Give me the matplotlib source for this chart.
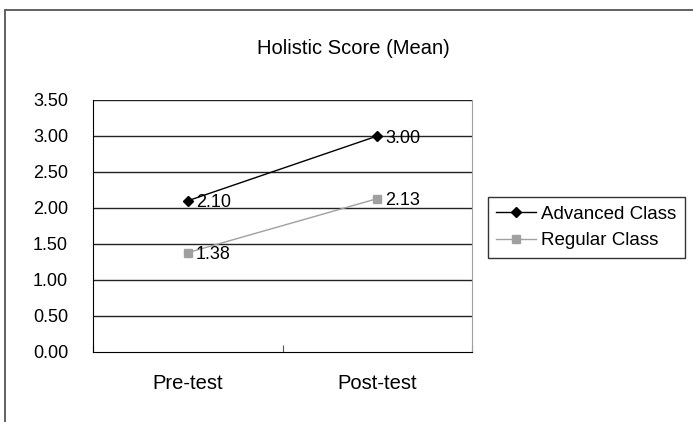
import matplotlib
matplotlib.use('Agg')
import matplotlib.pyplot as plt
from matplotlib.patches import Rectangle

# data
tests = ['Pre-test', 'Post-test']
advanced = [2.10, 3.00]
regular = [1.38, 2.13]
y_ticks = [0.0, 0.5, 1.0, 1.5, 2.0, 2.5, 3.0, 3.5]

plt.rcParams['font.family'] = ['Liberation Sans', 'DejaVu Sans']

fig = plt.figure(figsize=(6.93, 4.22), dpi=100)
# outer chart border (only top and left are visible in the crop)
fig.patches.append(Rectangle((5 / 693, -0.1), 1.2, 1 - 10 / 422 + 0.1,
                             transform=fig.transFigure, fill=False,
                             edgecolor='#555555', linewidth=1.3))

ax = fig.add_axes([93 / 693, 1 - 352 / 422, (472 - 93) / 693, (352 - 100) / 422])

x = [0.5, 1.5]
ax.plot(x, advanced, color='black', lw=1, marker='D', ms=5.5, label='Advanced Class', zorder=3)
ax.plot(x, regular, color='#a0a0a0', lw=1, marker='s', ms=5.5, label='Regular Class', zorder=3)

for xi, v in zip(x, advanced):
    ax.annotate(f'{v:.2f}', (xi, v), xytext=(6, -1.5), textcoords='offset points',
                ha='left', va='center', fontsize=13)
for xi, v in zip(x, regular):
    ax.annotate(f'{v:.2f}', (xi, v), xytext=(6, -1.5), textcoords='offset points',
                ha='left', va='center', fontsize=13)

ax.set_xlim(0, 2)
ax.set_ylim(0, 3.5)
ax.set_yticks(y_ticks)
ax.set_yticklabels([f'{t:.2f}' for t in y_ticks], fontsize=13)
ax.tick_params(axis='y', length=0, pad=18)
ax.set_xticks([0, 1, 2])
ax.set_xticklabels([])
ax.tick_params(axis='x', which='major', direction='in', length=5, color='#555555')
ax.set_xticks(x, minor=True)
ax.set_xticklabels(tests, minor=True, fontsize=14.5)
ax.tick_params(axis='x', which='minor', length=0, pad=16)

for t in y_ticks[1:]:
    ax.axhline(t, color='#222222', lw=1, zorder=1)
ax.spines['top'].set_visible(False)
ax.spines['right'].set_color('#a0a0a0')
ax.spines['left'].set_color('black')
ax.spines['bottom'].set_color('black')

fig.text(353 / 693, 1 - 49 / 422, 'Holistic Score (Mean)', ha='center', va='center',
         fontsize=14.5)

leg = fig.legend(loc='upper left', bbox_to_anchor=(488 / 693, 1 - 197 / 422),
                 fontsize=13.5, frameon=True, fancybox=False, handlelength=2.1,
                 borderpad=0.45, labelspacing=0.5, handletextpad=0.3, borderaxespad=0)
leg.get_frame().set_edgecolor('black')
leg.get_frame().set_linewidth(1)

fig.savefig('out.png', dpi=100)
